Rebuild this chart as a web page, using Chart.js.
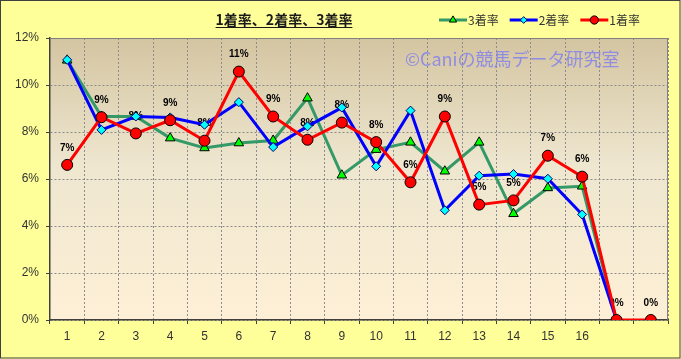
<!DOCTYPE html>
<html><head><meta charset="utf-8">
<script src="https://cdn.jsdelivr.net/npm/chart.js@4"></script>
<style>html,body{margin:0;padding:0;background:#FFFF99;}#wrap{position:relative;width:681px;height:359px;}</style>
</head><body><div id="wrap"><canvas id="c" width="681" height="359"></canvas></div>
<script>
const titleText = '1着率、2着率、3着率';
const watermarkText = '©Caniの競馬データ研究室';
const categories = ['1','2','3','4','5','6','7','8','9','10','11','12','13','14','15','16','',''];
const seriesNames = ['1着率','2着率','3着率'];
const win1 = [6.6, 8.63, 7.94, 8.5, 7.63, 10.57, 8.66, 7.67, 8.40, 7.57, 5.86, 8.66, 4.91, 5.09, 6.99, 6.10, 0, 0];
const win2 = [11.07, 8.09, 8.66, 8.62, 8.31, 9.27, 7.36, 8.24, 9.04, 6.54, 8.91, 4.67, 6.14, 6.21, 6.01, 4.49, 0, null];
const win3 = [11.05, 8.66, 8.66, 7.74, 7.32, 7.53, 7.64, 9.44, 6.16, 7.25, 7.56, 6.33, 7.56, 4.52, 5.62, 5.69, 0, null];
const yMin = 0, yMax = 12, yStep = 2;

const JP = '"Noto Sans CJK JP","Noto Sans",sans-serif';

function drawMarkerPath(ctx, style, r, x, y) {
  if (style === 'circle') {
    ctx.arc(x, y, r, 0, Math.PI * 2);
  } else if (style === 'triangle') {
    ctx.moveTo(x, y - r);
    ctx.lineTo(x + r * 0.866, y + r * 0.5);
    ctx.lineTo(x - r * 0.866, y + r * 0.5);
    ctx.closePath();
  } else {
    ctx.moveTo(x, y - r);
    ctx.lineTo(x + r, y);
    ctx.lineTo(x, y + r);
    ctx.lineTo(x - r, y);
    ctx.closePath();
  }
}

const decor = {
  id: 'decor',
  beforeDraw(chart) {
    const ctx = chart.ctx, a = chart.chartArea;
    ctx.save();
    ctx.fillStyle = '#FFFF99';
    ctx.fillRect(0, 0, chart.width, chart.height);
    ctx.strokeStyle = '#404040';
    ctx.lineWidth = 1;
    ctx.strokeRect(0.5, 0.5, chart.width - 1.5, chart.height - 1.5);
    const g = ctx.createLinearGradient(0, a.top, 0, a.bottom);
    g.addColorStop(0, '#D4C5A1');
    g.addColorStop(0.45, '#EEE6CF');
    g.addColorStop(1, '#FEF0D6');
    ctx.fillStyle = g;
    ctx.fillRect(a.left, a.top, a.right - a.left, a.bottom - a.top);
    ctx.restore();
  },
  beforeDatasetsDraw(chart) {
    const ctx = chart.ctx, a = chart.chartArea;
    ctx.save();
    ctx.strokeStyle = '#808080';
    ctx.lineWidth = 1;
    ctx.beginPath();
    ctx.moveTo(a.left, a.top + 0.5);
    ctx.lineTo(a.right - 0.5, a.top + 0.5);
    ctx.lineTo(a.right - 0.5, a.bottom);
    ctx.stroke();
    ctx.font = '18px ' + JP;
    ctx.fillStyle = 'rgba(125,125,240,0.8)';
    ctx.textAlign = 'left';
    ctx.textBaseline = 'middle';
    ctx.fillText(watermarkText, 405, 59);
    const meta = chart.getDatasetMeta(0);
    ctx.font = 'bold 10px "Liberation Sans",Arial,sans-serif';
    ctx.fillStyle = '#000';
    ctx.textAlign = 'center';
    meta.data.forEach((pt, i) => {
      const v = win1[i];
      if (v == null) return;
      ctx.fillText(Math.round(v) + '%', pt.x, pt.y - 17);
    });
    ctx.restore();
  },
  afterDraw(chart) {
    const ctx = chart.ctx;
    ctx.save();
    ctx.font = 'bold 14px ' + JP;
    ctx.fillStyle = '#1a1a1a';
    ctx.textAlign = 'center';
    ctx.textBaseline = 'middle';
    const tx = 284, ty = 20;
    ctx.fillText(titleText, tx, ty);
    const tw = ctx.measureText(titleText).width;
    ctx.strokeStyle = '#1a1a1a';
    ctx.lineWidth = 1;
    ctx.beginPath();
    ctx.moveTo(tx - tw / 2, 27.5);
    ctx.lineTo(tx + tw / 2, 27.5);
    ctx.stroke();
    let x = 439;
    const ly = 20;
    [2, 1, 0].forEach(di => {
      const ds = chart.data.datasets[di];
      ctx.strokeStyle = ds.borderColor;
      ctx.lineWidth = 3;
      ctx.beginPath();
      ctx.moveTo(x, ly);
      ctx.lineTo(x + 28, ly);
      ctx.stroke();
      ctx.fillStyle = ds.pointBackgroundColor;
      ctx.strokeStyle = ds.pointBorderColor;
      ctx.lineWidth = 1;
      ctx.beginPath();
      drawMarkerPath(ctx, ds.pointStyle, ds.pointRadius * 0.75, x + 14, ly);
      ctx.fill();
      ctx.stroke();
      ctx.font = '12px ' + JP;
      ctx.fillStyle = '#333';
      ctx.textAlign = 'left';
      ctx.textBaseline = 'middle';
      ctx.fillText(ds.label, x + 29, ly);
      x += 29 + ctx.measureText(ds.label).width + 11;
    });
    ctx.restore();
  }
};

new Chart(document.getElementById('c'), {
  type: 'line',
  data: {
    labels: categories,
    datasets: [
      { label: seriesNames[0], data: win1, borderColor: '#FF0000', borderWidth: 3,
        pointStyle: 'circle', pointRadius: 5.5, pointBackgroundColor: '#FF0000', pointBorderColor: '#000', pointBorderWidth: 1 },
      { label: seriesNames[1], data: win2, borderColor: '#0000FF', borderWidth: 3,
        pointStyle: 'rectRot', pointRadius: 4.5, pointBackgroundColor: '#00FFFF', pointBorderColor: '#000066', pointBorderWidth: 1 },
      { label: seriesNames[2], data: win3, borderColor: '#339966', borderWidth: 3,
        pointStyle: 'triangle', pointRadius: 5.5, pointBackgroundColor: '#00FF00', pointBorderColor: '#000', pointBorderWidth: 1 }
    ]
  },
  options: {
    responsive: false,
    animation: false,
    events: [],
    devicePixelRatio: 1,
    layout: { padding: { top: 38, right: 13, left: 0, bottom: 0 } },
    elements: { line: { tension: 0 } },
    plugins: { legend: { display: false }, title: { display: false }, tooltip: { enabled: false } },
    scales: {
      x: {
        type: 'category',
        offset: true,
        grid: { offset: true, color: '#8c8c8c', tickColor: '#404040', tickLength: 4, tickBorderDash: [] },
        border: { display: true, color: '#404040', width: 1.5, dash: [2, 2] },
        ticks: { color: '#333', font: { family: '"Liberation Sans",Arial,sans-serif', size: 12 }, padding: 5, maxRotation: 0, autoSkip: false },
        afterFit(s) { s.height = 39; }
      },
      y: {
        min: yMin, max: yMax,
        grid: { color: '#8c8c8c', tickColor: '#404040', tickLength: 4, tickBorderDash: [] },
        border: { display: true, color: '#404040', width: 1.5, dash: [2, 2] },
        ticks: { stepSize: yStep, color: '#333', font: { family: '"Liberation Sans",Arial,sans-serif', size: 12 }, padding: 7,
          callback: v => v + '%' },
        afterFit(s) { s.width = 50; }
      }
    }
  },
  plugins: [decor]
});
</script></body></html>
